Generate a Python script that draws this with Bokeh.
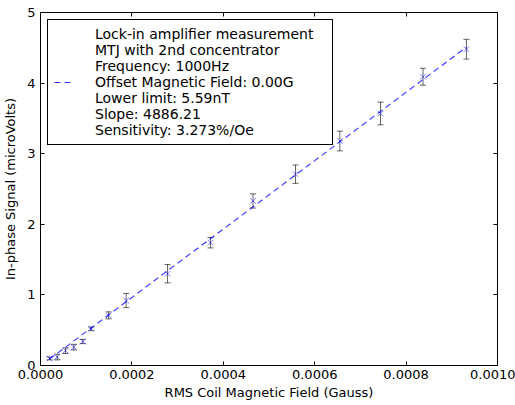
from bokeh.plotting import figure
from bokeh.models import (Whisker, TeeHead, ColumnDataSource, Legend, LegendItem,
                          LinearAxis, FixedTicker, CustomJSTickFormatter, Range1d)
from bokeh.embed import file_html
from bokeh.resources import INLINE

# Data
field_gauss = [1.97e-5, 3.65e-5, 5.47e-5, 7.29e-5, 9.26e-5, 1.11e-4, 1.49e-4, 1.875e-4,
               2.78e-4, 3.72e-4, 4.65e-4, 5.58e-4, 6.55e-4, 7.44e-4, 8.37e-4, 9.32e-4]
signal_uv = [0.10, 0.12, 0.21, 0.26, 0.34, 0.52, 0.71, 0.92,
             1.30, 1.74, 2.33, 2.71, 3.18, 3.57, 4.09, 4.48]
signal_err = [0.02, 0.04, 0.04, 0.04, 0.03, 0.025, 0.05, 0.10,
              0.13, 0.075, 0.10, 0.13, 0.14, 0.16, 0.12, 0.14]
fit_x = [1.97e-5, 9.32e-4]
fit_y = [0.09, 4.51]

legend_lines = [
    "Lock-in amplifier measurement",
    "MTJ with 2nd concentrator",
    "Frequency: 1000Hz",
    "Offset Magnetic Field: 0.00G",
    "Lower limit: 5.59nT",
    "Slope: 4886.21",
    "Sensitivity: 3.273%/Oe",
]
x_ticks = [0.0, 0.0002, 0.0004, 0.0006, 0.0008, 0.0010]
y_ticks = [0, 1, 2, 3, 4, 5]

FONT = "DejaVu Sans"

p = figure(frame_width=457, frame_height=353, output_backend="svg", toolbar_location=None,
           x_range=Range1d(0, 0.0010), y_range=Range1d(0, 5),
           min_border_left=40, min_border_right=18, min_border_top=12, min_border_bottom=40)
p.xgrid.visible = False
p.ygrid.visible = False
p.outline_line_color = "black"
p.outline_line_width = 1
p.background_fill_color = "white"
p.border_fill_color = "white"

fmt_x = CustomJSTickFormatter(code="return tick.toFixed(4);")
fmt_blank = CustomJSTickFormatter(code="return '';")

def style_axis(ax):
    ax.axis_line_color = None
    ax.major_tick_in = 4
    ax.major_tick_out = 0
    ax.minor_tick_in = 0
    ax.minor_tick_out = 0
    ax.major_tick_line_color = "black"
    ax.major_label_text_font = FONT
    ax.major_label_text_font_size = "13px"
    ax.major_label_text_color = "black"
    ax.axis_label_text_font = FONT
    ax.axis_label_text_font_size = "13px"
    ax.axis_label_text_font_style = "normal"
    ax.axis_label_text_color = "black"

xa = p.xaxis[0]
xa.ticker = FixedTicker(ticks=x_ticks)
xa.formatter = fmt_x
xa.axis_label = "RMS Coil Magnetic Field (Gauss)"
style_axis(xa)
xa.major_label_standoff = 4
xa.axis_label_standoff = 3

ya = p.yaxis[0]
ya.ticker = FixedTicker(ticks=y_ticks)
ya.axis_label = "In-phase Signal (microVolts)"
style_axis(ya)
ya.major_label_standoff = 5
ya.axis_label_standoff = 6

top = LinearAxis(ticker=FixedTicker(ticks=x_ticks), formatter=fmt_blank)
style_axis(top)
top.major_label_standoff = 0
p.add_layout(top, "above")
right = LinearAxis(ticker=FixedTicker(ticks=y_ticks), formatter=fmt_blank)
style_axis(right)
right.major_label_standoff = 0
p.add_layout(right, "right")

src = ColumnDataSource(dict(
    x=field_gauss, y=signal_uv,
    lo=[v - e for v, e in zip(signal_uv, signal_err)],
    hi=[v + e for v, e in zip(signal_uv, signal_err)],
))

fit = p.line(fit_x, fit_y, line_color="blue", line_dash="6 4", line_width=1.1, line_alpha=0.8)

w = Whisker(source=src, base="x", lower="lo", upper="hi",
            line_color="black", line_alpha=0.6, line_width=1,
            upper_head=TeeHead(size=6, line_color="black", line_alpha=0.6),
            lower_head=TeeHead(size=6, line_color="black", line_alpha=0.6))
p.add_layout(w)

p.scatter("x", "y", source=src, marker="x", size=8, line_color="blue",
          line_alpha=0.5, line_width=1)

items = []
for i, lab in enumerate(legend_lines):
    if i == 3:
        items.append(LegendItem(label=lab, renderers=[fit]))
    else:
        dummy = p.line([], [], line_alpha=0)
        items.append(LegendItem(label=lab, renderers=[dummy]))

leg = Legend(items=items, location="top_left", margin=7, padding=6, spacing=0,
             glyph_width=20, glyph_height=16, label_height=16, label_width=231,
             label_standoff=21,
             label_text_font=FONT, label_text_font_size="14px", label_text_color="black",
             border_line_color="black", border_line_width=1, border_line_alpha=1,
             background_fill_alpha=1)
p.add_layout(leg, "center")

open("out.html", "w").write(file_html(p, INLINE))
